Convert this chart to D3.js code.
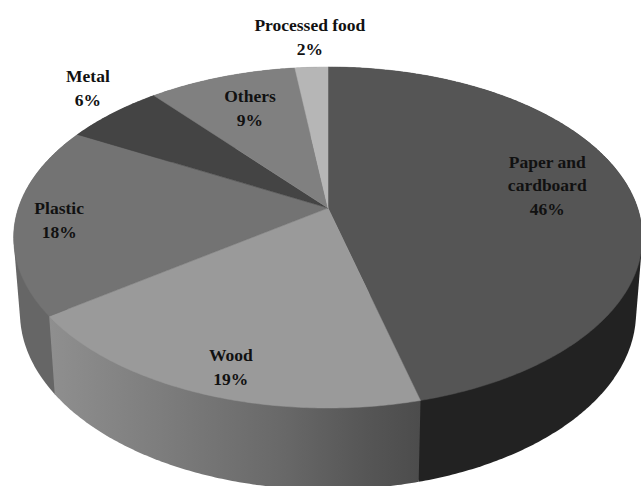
<!DOCTYPE html>
<html>
<head>
<meta charset="utf-8">
<script src="https://cdn.jsdelivr.net/npm/d3@7"></script>
<style>
  html, body { margin: 0; padding: 0; background: #fff; }
  svg { display: block; }
  text { font-family: "Liberation Serif", serif; font-weight: bold; font-size: 17.5px; fill: #111; }
</style>
</head>
<body>
<svg id="chart" width="641" height="486"></svg>
<script>
// Waste composition, percent by material, clockwise from twelve o'clock
const materials = ["Paper and cardboard", "Wood", "Plastic", "Metal", "Others", "Processed food"];
const shares = [46, 19, 18, 6, 9, 2];
const labelLines = [["Paper and", "cardboard"], ["Wood"], ["Plastic"], ["Metal"], ["Others"], ["Processed food"]];

// Presentation of each slice
const faceFill = ["#555555", "#9a9a9a", "#737373", "#444444", "#808080", "#b6b6b6"];
const sideFill = ["#222222", "url(#woodSide)", "#666666", "#333333", "#555555", "#777777"];
// Painting order of the side walls, rear slices first
const sideOrder = [3, 4, 5, 2, 0, 1];
// Label anchor: radius along the slice's mid-angle, then a small nudge in pixels
const labelRadius = [0.725, 0.876, 0.862, 1.132, 0.736, 1.261];
const labelNudge = [[0, -8], [10, 0], [0, 3], [0, -14], [3, 0], [2, 0]];

const svg = d3.select("#chart");

// Tilted-disc projection: the disc's centre sits above the middle of its outline
const apex = { x: 328, y: 208 };
const tilt = 0.173;
const spanX = d3.scaleLinear().domain([-1, 1]).range([-309.6, 309.6]);
const spanY = d3.scaleLinear().domain([-1, 1]).range([165.4, -165.4]);
const rimDrop = 73.7;
const rimShrinkX = 0.98;
const rimStretchY = 1.04;

function project(angle, r = 1) {
  const u = r * Math.sin(angle), v = r * Math.cos(angle);
  const w = 1 + tilt * v;
  return [apex.x + spanX(u) / w, apex.y + spanY(v) / w];
}
const lowerRim = ([x, y]) => [
  apex.x + (x - apex.x) * rimShrinkX,
  apex.y + (y - apex.y) * rimStretchY + rimDrop
];

const arcs = d3.pie().sort(null).value(d => d)(shares);
const line = d3.line();
const arcPoints = a => {
  const n = Math.max(2, Math.ceil((a.endAngle - a.startAngle) / 0.01));
  return d3.range(n + 1).map(i => project(a.startAngle + (a.endAngle - a.startAngle) * i / n));
};

const woodGradient = svg.append("defs").append("linearGradient")
  .attr("id", "woodSide").attr("x1", 0).attr("x2", 1).attr("y1", 0).attr("y2", 0);
[[0, "#8f8f8f"], [0.3, "#7d7d7d"], [0.62, "#696969"], [0.85, "#565656"], [1, "#4c4c4c"]]
  .forEach(([o, c]) => woodGradient.append("stop").attr("offset", o).attr("stop-color", c));

// Side walls first, so the top faces cover everything behind them.
// Each wall is the hull of its upper and lower rim, which keeps the outer tangent edges.
svg.append("g").selectAll("path").data(sideOrder).join("path")
  .attr("d", i => {
    const top = arcPoints(arcs[i]);
    return line(d3.polygonHull(top.concat(top.map(lowerRim)))) + "Z";
  })
  .attr("fill", i => sideFill[i])
  .attr("stroke", "none");

// Top faces
svg.append("g").selectAll("path").data(arcs).join("path")
  .attr("d", a => line([[apex.x, apex.y]].concat(arcPoints(a))) + "Z")
  .attr("fill", (a, i) => faceFill[i])
  .attr("stroke", (a, i) => faceFill[i])
  .attr("stroke-width", 0.5);

// Labels: material name, then the share
const lineHeight = 23.5;
const labels = svg.append("g").selectAll("text").data(arcs).join("text")
  .attr("text-anchor", "middle")
  .attr("aria-label", (a, i) => materials[i]);
labels.each(function (a, i) {
  const mid = (a.startAngle + a.endAngle) / 2;
  const [x, y] = project(mid, labelRadius[i]);
  const cx = x + labelNudge[i][0], cy = y + labelNudge[i][1];
  const rows = labelLines[i].concat(shares[i] + "%");
  const first = cy - (rows.length - 1) * lineHeight / 2 + 6;
  d3.select(this).selectAll("tspan").data(rows).join("tspan")
    .attr("x", cx)
    .attr("y", (d, j) => first + j * lineHeight)
    .text(d => d);
});
</script>
</body>
</html>
